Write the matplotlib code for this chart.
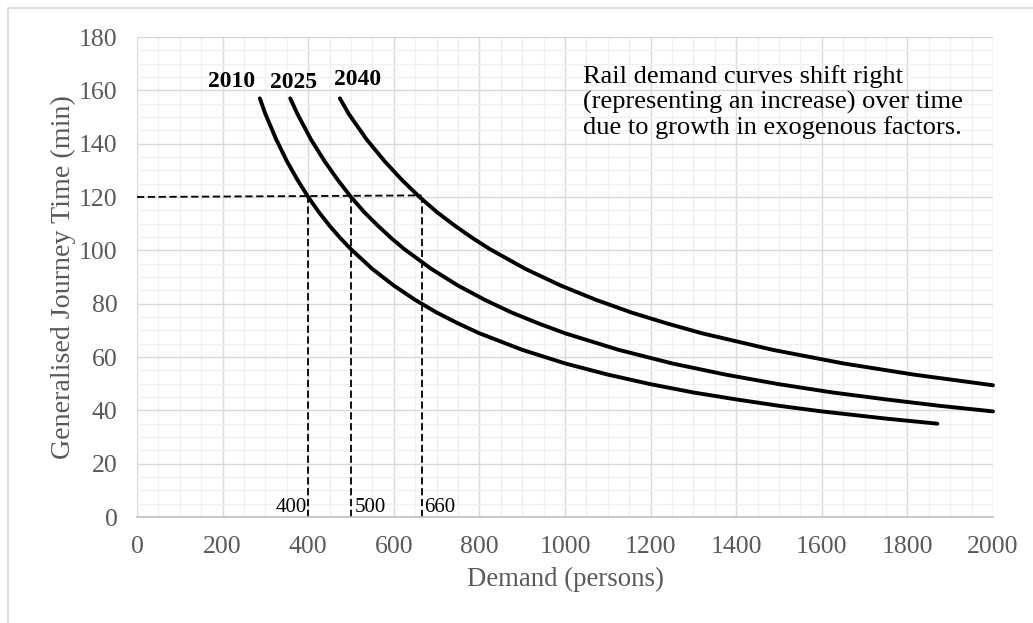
import numpy as np
import matplotlib.pyplot as plt
from matplotlib.patches import Rectangle
from matplotlib.ticker import MultipleLocator

# curvas de demanda
x_2010 = [287, 300, 325, 350, 375, 400, 425, 450, 475, 500, 550, 600, 650, 700, 750, 800,
          900, 1000, 1100, 1200, 1300, 1400, 1500, 1600, 1750, 1870]
y_2010 = [157, 151.1, 141.7, 133.5, 126.4, 120, 114.3, 109.2, 104.6, 100.4, 93.0, 86.8, 81.4,
          76.7, 72.6, 68.9, 62.7, 57.6, 53.4, 49.8, 46.7, 44.1, 41.7, 39.6, 36.9, 35.0]

x_2025 = [358, 375, 406, 438, 469, 500, 531, 563, 594, 625, 688, 750, 813, 875, 938, 1000,
          1125, 1250, 1375, 1500, 1625, 1750, 1875, 2000]
y_2025 = [157, 151.1, 141.7, 133.5, 126.4, 120, 114.3, 109.2, 104.6, 100.4, 93.0, 86.8, 81.4,
          76.7, 72.6, 68.9, 62.7, 57.6, 53.4, 49.8, 46.7, 44.1, 41.7, 39.6]

x_2040 = [474, 495, 536, 578, 619, 660, 701, 743, 784, 825, 908, 990, 1073, 1155, 1238, 1320,
          1485, 1650, 1815, 2000]
y_2040 = [157, 151.1, 141.7, 133.5, 126.4, 120, 114.3, 109.2, 104.6, 100.4, 93.0, 86.8, 81.4,
          76.7, 72.6, 68.9, 62.7, 57.6, 53.4, 49.4]

years = ['2010', '2025', '2040']
year_label_x = [220, 366, 516]
year_label_y = [163.4, 162.8, 164.1]

gjt_level = 120
demand_marks = [400, 500, 665]
demand_labels = ['400', '500', '660']

note = ("Rail demand curves shift right\n"
        "(representing an increase) over time\n"
        "due to growth in exogenous factors.")

plt.rcParams['font.family'] = ['Liberation Serif', 'DejaVu Serif']

fig = plt.figure(figsize=(10.33, 6.23), dpi=100)
W, H = 1033, 623
ax = fig.add_axes([137 / W, 1 - 517 / H, (993 - 137) / W, (517 - 37) / H])

# marco exterior (solo se ven los lados izquierdo y superior)
fig.patches.append(Rectangle((8 / W, -0.1), 1.2, 1 - 8 / H + 0.1, transform=fig.transFigure,
                             fill=False, edgecolor='#d9d9d9', linewidth=1.2))

ax.set_xlim(0, 2000)
ax.set_ylim(0, 180)
ax.xaxis.set_major_locator(MultipleLocator(200))
ax.xaxis.set_minor_locator(MultipleLocator(50))
ax.yaxis.set_major_locator(MultipleLocator(20))
ax.yaxis.set_minor_locator(MultipleLocator(5))
ax.grid(which='major', color='#d9d9d9', linewidth=1.0)
ax.grid(which='minor', color='#f0f0f0', linewidth=1.0)
ax.set_axisbelow(True)
ax.tick_params(which='both', length=0)
ax.tick_params(axis='y', pad=14, labelsize=18.5, labelcolor='#595959')
ax.tick_params(axis='x', pad=14, labelsize=18.5, labelcolor='#595959')
for s in ['top', 'right', 'left']:
    ax.spines[s].set_visible(False)
ax.spines['bottom'].set_color('#bfbfbf')
ax.spines['bottom'].set_linewidth(1.2)

ax.set_xlabel('Demand (persons)', fontsize=19.3, color='#595959', labelpad=6)
ax.set_ylabel('Generalised Journey Time (min)', fontsize=20.2, color='#595959', labelpad=2)

for xs, ys in [(x_2010, y_2010), (x_2025, y_2025), (x_2040, y_2040)]:
    ax.plot(xs, ys, color='black', linewidth=2.8, solid_capstyle='round',
            solid_joinstyle='round', clip_on=False)

# lineas de referencia
ax.plot([0, demand_marks[-1]], [gjt_level, gjt_level + 0.6], color='black',
        linestyle=(0, (4, 2)), linewidth=1.3)
for xm in demand_marks:
    ax.plot([xm, xm], [0, gjt_level], color='black', linestyle=(0, (4, 2)), linewidth=1.3)

ax.text(demand_marks[0] - 4, 3.5, demand_labels[0], ha='right', va='center', fontsize=15)
ax.text(demand_marks[1] + 9, 3.5, demand_labels[1], ha='left', va='center', fontsize=15)
ax.text(demand_marks[2] + 5, 3.5, demand_labels[2], ha='left', va='center', fontsize=15)

for lab, lx, ly in zip(years, year_label_x, year_label_y):
    ax.text(lx, ly, lab, ha='center', va='center', fontsize=17, fontweight='bold')

ax.text(1042, 155.6, note, ha='left', va='center', fontsize=19, linespacing=1.15)

fig.savefig('out.png', dpi=100)
